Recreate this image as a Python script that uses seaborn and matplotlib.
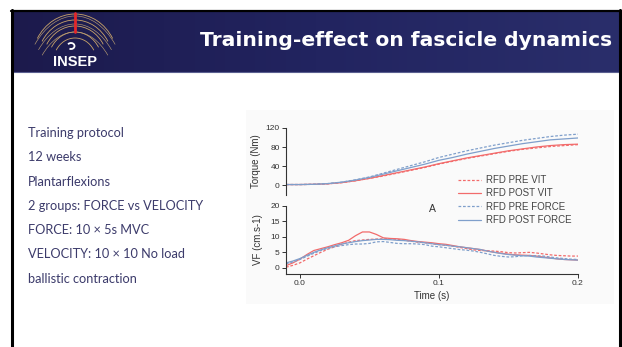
import numpy as np
import pandas as pd
import matplotlib
matplotlib.use("Agg")
import matplotlib.pyplot as plt
from matplotlib.patches import Rectangle, Arc
from matplotlib.colors import LinearSegmentedColormap
import seaborn as sns

sns.set_theme(style="white")
plt.rcParams["font.family"] = ["Liberation Sans", "DejaVu Sans"]

# ---- data -------------------------------------------------------------
series_names = ["RFD PRE VIT", "RFD POST VIT", "RFD PRE FORCE", "RFD POST FORCE"]

# torque traces, 10 ms steps
torque_time = [-0.01, 0.00, 0.01, 0.02, 0.03, 0.04, 0.05, 0.06, 0.07, 0.08, 0.09,
               0.10, 0.11, 0.12, 0.13, 0.14, 0.15, 0.16, 0.17, 0.18, 0.19, 0.20]
torque_pre_vit = [1, 1, 1.5, 2.5, 5, 9, 14, 19, 25, 31, 37,
                  44, 50, 56, 61, 66, 71, 75, 78, 81, 83, 85]
torque_post_vit = [1, 1, 1.5, 2.5, 5, 9, 14, 20, 26, 32, 38,
                   45, 51, 57, 62, 67, 72, 76, 80, 83, 85, 86]
torque_pre_force = [1, 1, 1.5, 3, 6, 11, 17, 25, 33, 41, 49,
                    58, 65, 72, 78, 84, 89, 94, 98, 102, 105, 107]
torque_post_force = [1, 1, 1.5, 3, 6, 10.5, 16, 23, 30, 37, 44,
                     52, 58, 65, 71, 77, 82, 87, 91, 95, 97, 99]

# fascicle velocity traces, 5 ms steps
vf_time = [-0.010, -0.005, 0.000, 0.005, 0.010, 0.015, 0.020, 0.025, 0.030, 0.035,
           0.040, 0.045, 0.050, 0.055, 0.060, 0.065, 0.070, 0.075, 0.080, 0.085,
           0.090, 0.095, 0.100, 0.105, 0.110, 0.115, 0.120, 0.125, 0.130, 0.135,
           0.140, 0.145, 0.150, 0.155, 0.160, 0.165, 0.170, 0.175, 0.180, 0.185,
           0.190, 0.195, 0.200]
vf_pre_vit = [0.2, 0.8, 1.6, 2.8, 3.9, 5.0, 6.0, 6.8, 7.6, 8.3,
              8.8, 9.0, 9.2, 9.3, 9.4, 9.4, 9.2, 8.9, 8.6, 8.3,
              8.1, 7.8, 7.5, 7.3, 7.0, 6.6, 6.2, 5.8, 5.6, 5.5,
              5.4, 5.2, 4.9, 4.8, 4.9, 5.0, 4.8, 4.5, 4.2, 4.0,
              3.9, 3.8, 3.8]
vf_post_vit = [0.7, 1.6, 2.8, 4.3, 5.6, 6.2, 6.8, 7.5, 8.1, 8.9,
               10.4, 11.6, 11.6, 10.8, 9.7, 9.5, 9.4, 9.2, 8.8, 8.5,
               8.3, 8.1, 7.8, 7.6, 7.2, 6.8, 6.5, 6.2, 5.9, 5.4,
               5.0, 4.7, 4.4, 4.2, 4.1, 4.0, 3.8, 3.5, 3.2, 2.9,
               2.7, 2.6, 2.5]
vf_pre_force = [1.3, 1.9, 2.7, 3.7, 4.7, 5.6, 6.3, 6.8, 7.2, 7.5,
                7.7, 7.7, 7.9, 8.4, 8.5, 8.2, 7.9, 7.8, 7.8, 7.7,
                7.5, 7.0, 6.8, 6.5, 6.2, 5.9, 5.7, 5.4, 5.0, 4.5,
                4.0, 3.7, 3.5, 3.6, 3.9, 4.0, 3.9, 3.8, 3.5, 3.2,
                3.0, 2.8, 2.7]
vf_post_force = [1.6, 2.2, 3.0, 4.0, 5.0, 5.8, 6.5, 7.1, 7.7, 8.1,
                 8.5, 8.8, 9.0, 9.2, 9.2, 9.1, 8.9, 8.8, 8.6, 8.4,
                 8.1, 7.8, 7.5, 7.3, 7.0, 6.8, 6.5, 6.2, 5.9, 5.4,
                 5.0, 4.6, 4.3, 4.1, 3.9, 3.8, 3.5, 3.3, 3.1, 2.9,
                 2.7, 2.6, 2.5]

torque_ticks = [0, 40, 80, 120]
vf_ticks = [0, 5, 10, 15, 20]
time_ticks = [0.0, 0.1, 0.2]

bullets = ["Training protocol", "12 weeks", "Plantarflexions",
           "2 groups: FORCE vs VELOCITY", "FORCE: 10 × 5s MVC",
           "VELOCITY: 10 × 10 No load", "ballistic contraction"]
title = "Training-effect on fascicle dynamics"

# ---- styling ----------------------------------------------------------
RED = "#f26b6b"
BLUE = "#7f9fcb"
colors = {"RFD PRE VIT": RED, "RFD POST VIT": RED,
          "RFD PRE FORCE": BLUE, "RFD POST FORCE": BLUE}
dashes = {"RFD PRE VIT": (2.2, 1.4), "RFD POST VIT": "",
          "RFD PRE FORCE": (2.2, 1.4), "RFD POST FORCE": ""}

torque_df = pd.concat([
    pd.DataFrame({"time": torque_time, "value": v, "series": n})
    for n, v in zip(series_names, [torque_pre_vit, torque_post_vit,
                                   torque_pre_force, torque_post_force])
])
vf_df = pd.concat([
    pd.DataFrame({"time": vf_time, "value": v, "series": n})
    for n, v in zip(series_names, [vf_pre_vit, vf_post_vit,
                                   vf_pre_force, vf_post_force])
])

W, H = 622, 347
fig = plt.figure(figsize=(W / 100, H / 100), dpi=100)
fig.patch.set_facecolor("white")

def box(x0, y0, x1, y1):
    return [x0 / W, 1 - y1 / H, (x1 - x0) / W, (y1 - y0) / H]

# slide background layer in pixel coordinates
bg = fig.add_axes([0, 0, 1, 1])
bg.set_xlim(0, W)
bg.set_ylim(H, 0)
bg.axis("off")

# header band with a gentle left-to-right gradient
grad = np.linspace(0, 1, 256).reshape(1, -1)
hdr_cmap = LinearSegmentedColormap.from_list("hdr", ["#1c1a4c", "#222460", "#2a2e6b"])
bg.imshow(grad, cmap=hdr_cmap, extent=(12, 620, 72, 11), aspect="auto", zorder=1)
bg.plot([12, 620], [72, 72], color="#5a5f90", lw=0.8, zorder=2)

# chart panel tint
bg.add_patch(Rectangle((246, 110), 368, 194, facecolor="#fafafa", edgecolor="none", zorder=0))

# slide frame
bg.plot([11, 621], [10.5, 10.5], color="black", lw=1.6, zorder=3)
bg.plot([12, 12], [10, H], color="black", lw=2.2, zorder=3)
bg.plot([620, 620], [10, H], color="black", lw=2.2, zorder=3)

# logo: a fan of golden arcs crossed by flatter arcs, with a red meridian
for ry in [24, 30, 36, 42, 48]:
    bg.add_patch(Arc((75, 62), 2 * ry * 0.9, 2 * ry, theta1=212, theta2=328,
                     color="#c9a46a", lw=0.6, zorder=2))
for r in [72, 80, 88]:
    bg.add_patch(Arc((75, 104), 2 * r * 0.62, 2 * r, theta1=236, theta2=304,
                     color="#b59a72", lw=0.45, zorder=2))
bg.plot([75, 75], [13, 32], color="#e3262a", lw=2.0, zorder=3)
bg.add_patch(Arc((71, 46), 7, 6, theta1=-150, theta2=120, color="white", lw=1.3, zorder=3))
bg.text(75, 62, "INSEP", color="white", fontsize=10.5, fontweight="bold",
        ha="center", va="center", family=["Liberation Sans"], zorder=3)

# title
bg.text(612, 40, title, color="white", fontsize=14.6, fontweight="bold",
        ha="right", va="center", family=["DejaVu Sans"], zorder=3)

# bullet text
for i, line in enumerate(bullets):
    bg.text(28, 133 + i * 24.3, line, color="#3c3b6b", fontsize=9.2,
            ha="left", va="center", family=["Lato", "DejaVu Sans"], zorder=3)

# ---- chart ------------------------------------------------------------
TXT = "#333333"
ax1 = fig.add_axes(box(286, 128, 578, 195))
ax2 = fig.add_axes(box(286, 206, 578, 274))

for ax, df in [(ax1, torque_df), (ax2, vf_df)]:
    sns.lineplot(data=df, x="time", y="value", hue="series", style="series",
                 palette=colors, dashes=dashes, hue_order=series_names,
                 style_order=series_names, linewidth=0.9, ax=ax, legend=(ax is ax2))
    ax.set_facecolor("none")
    ax.set_xlim(-0.01, 0.2)
    for s in ["top", "right"]:
        ax.spines[s].set_visible(False)
    ax.spines["left"].set_color(TXT)
    ax.spines["left"].set_linewidth(0.8)
    ax.tick_params(axis="both", which="both", direction="out", length=3, width=0.7,
                   color=TXT, labelsize=6, labelcolor=TXT, pad=1.5,
                   left=True, bottom=True)

ax1.set_ylim(-21, 120)
ax1.set_yticks(torque_ticks)
ax1.spines["bottom"].set_visible(False)
ax1.set_xticks([])
ax1.set_xlabel("")
ax1.set_ylabel("Torque (Nm)", fontsize=7, color=TXT, labelpad=3)

ax2.set_ylim(-2, 20)
ax2.set_yticks(vf_ticks)
ax2.set_xticks(time_ticks)
ax2.set_xticklabels([f"{t:.1f}" for t in time_ticks])
ax2.spines["bottom"].set_color(TXT)
ax2.spines["bottom"].set_linewidth(0.8)
ax2.set_xlabel("Time (s)", fontsize=7, color=TXT, labelpad=3)
ax2.set_ylabel("VF (cm.s-1)", fontsize=7, color=TXT, labelpad=5)

handles, labels = ax2.get_legend_handles_labels()
ax2.get_legend().remove()
fig.legend(handles, labels, loc="upper left",
           bbox_to_anchor=(458 / W, 1 - 175 / H), frameon=False,
           fontsize=7, labelcolor="#444444", handlelength=2.4, handletextpad=0.5,
           labelspacing=0.35, borderpad=0, borderaxespad=0)

fig.text(432 / W, 1 - 209 / H, "A", fontsize=7.5, color=TXT, ha="center", va="center")

fig.savefig("out.png", dpi=100, facecolor="white")
